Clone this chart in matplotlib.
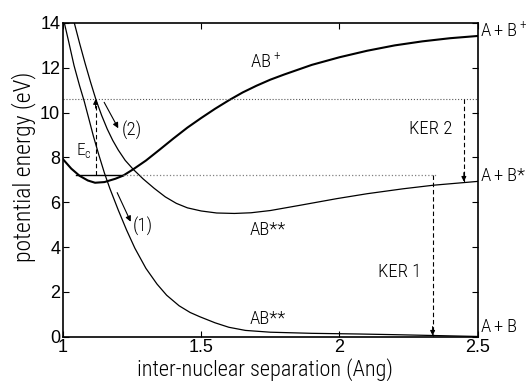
import matplotlib.pyplot as plt

plt.rcParams['font.family'] = ['Liberation Sans', 'DejaVu Sans']
plt.rcParams['mathtext.fontset'] = 'custom'
plt.rcParams['mathtext.rm'] = 'Roboto Condensed:light'
cond = ['Roboto Condensed', 'DejaVu Sans']

# AB+ ion curve (bound)
r_ion = [1.00, 1.03, 1.06, 1.09, 1.116, 1.15, 1.19, 1.218, 1.254, 1.30, 1.35,
         1.40, 1.45, 1.50, 1.55, 1.60, 1.65, 1.70, 1.75, 1.80, 1.90, 2.00,
         2.10, 2.20, 2.30, 2.40, 2.50]
e_ion = [7.92, 7.50, 7.18, 6.97, 6.87, 6.90, 7.05, 7.19, 7.47, 7.86, 8.35,
         8.85, 9.33, 9.76, 10.17, 10.55, 10.90, 11.20, 11.47, 11.70, 12.13,
         12.47, 12.76, 13.00, 13.18, 13.32, 13.42]

# upper AB** curve (goes to A+B*)
r_up = [1.041, 1.06, 1.08, 1.10, 1.12, 1.14, 1.16, 1.18, 1.20, 1.225, 1.254,
        1.29, 1.33, 1.37, 1.41, 1.45, 1.50, 1.556, 1.62, 1.68, 1.75, 1.86,
        1.99, 2.10, 2.23, 2.34, 2.50]
e_up = [14.0, 13.1, 12.2, 11.35, 10.55, 9.87, 9.27, 8.76, 8.33, 7.87, 7.47,
        7.04, 6.62, 6.24, 5.95, 5.75, 5.61, 5.52, 5.50, 5.53, 5.63, 5.87,
        6.16, 6.38, 6.60, 6.76, 6.93]

# lower AB** curve (goes to A+B)
r_low = [1.005, 1.02, 1.04, 1.06, 1.077, 1.092, 1.11, 1.13, 1.15, 1.17,
         1.20, 1.23, 1.26, 1.30, 1.34, 1.375, 1.42, 1.46, 1.495, 1.55,
         1.60, 1.66, 1.75, 1.90, 2.07, 2.20, 2.35, 2.50]
e_low = [14.0, 13.2, 12.1, 11.2, 10.5, 9.8, 8.95, 8.1, 7.3, 6.6,
         5.65, 4.76, 3.95, 3.05, 2.35, 1.85, 1.38, 1.08, 0.89, 0.62,
         0.42, 0.28, 0.20, 0.15, 0.12, 0.09, 0.05, 0.01]

# energy levels / arrows
e_excite = 10.6
e_vib = 7.2
r_vib = [1.046, 1.218]
r_excite = 1.118
r_ker1 = 2.337
r_ker2 = 2.45
e_ker1_end = 0.05
e_ker2_end = 6.92
r_dot_end = 2.35

fig = plt.figure(figsize=(5.31, 3.81), dpi=100)
ax = fig.add_axes([0.1186, 0.1163, 0.781, 0.8234])

ax.plot(r_ion, e_ion, color='k', lw=1.5)
ax.plot(r_up, e_up, color='k', lw=0.9)
ax.plot(r_low, e_low, color='k', lw=0.9)

# levels
ax.axhline(e_excite, color='0.35', ls=':', lw=0.8)
ax.plot(r_vib, [e_vib, e_vib], color='k', lw=1.0)
ax.plot([r_vib[1], r_dot_end], [e_vib, e_vib], color='0.5', ls=':', lw=0.9)

# dashed arrows
def dashed_arrow(x, y0, y1):
    ax.plot([x, x], [y0, y1], color='k', lw=0.8, dashes=(4, 2.5))
    d = 0.4 if y1 > y0 else -0.4
    ax.annotate('', xy=(x, y1), xytext=(x, y1 - d),
                arrowprops=dict(arrowstyle='-|>', color='k', lw=0.8,
                                mutation_scale=7, shrinkA=0, shrinkB=0))

dashed_arrow(r_excite, e_vib, e_excite)
dashed_arrow(r_ker2, e_excite, e_ker2_end)
dashed_arrow(r_ker1, e_vib, e_ker1_end)

# dissociation path arrows
arr = dict(arrowstyle='-|>', color='k', lw=0.8, mutation_scale=8,
           shrinkA=0, shrinkB=0)
ax.annotate('', xy=(1.20, 9.30), xytext=(1.149, 10.46), arrowprops=arr)
ax.annotate('', xy=(1.245, 5.13), xytext=(1.196, 6.43), arrowprops=arr)

fs = 13.5
tk = dict(fontsize=fs, family=cond, fontweight='light', va='center')
ax.text(1.676, 12.25, r'AB$^+$', **tk)
ax.text(1.676, 4.74, 'AB**', **tk)
ax.text(1.676, 0.79, 'AB**', **tk)
ax.text(2.253, 9.27, 'KER 2', **tk)
ax.text(2.14, 2.87, 'KER 1', **tk)
ax.text(1.046, 8.3, r'E$_\mathrm{c}$', fontsize=12.5, family=cond,
        fontweight='light', va='center')
ax.text(1.212, 9.22, '(2)', **tk)
ax.text(1.252, 4.92, '(1)', **tk)

ax.text(2.51, 13.65, r'$\mathrm{A+B^+}$', **tk)
ax.text(2.51, 7.17, r'$\mathrm{A+B}$*', **tk)
ax.text(2.51, 0.45, r'$\mathrm{A+B}$', **tk)

ax.set_xlim(1, 2.5)
ax.set_ylim(0, 14)
ax.set_xticks([1, 1.5, 2, 2.5])
ax.set_xticklabels(['1', '1.5', '2', '2.5'])
ax.set_yticks(range(0, 15, 2))
ax.tick_params(direction='in', top=True, right=True, length=4, width=0.8,
               labelsize=13, pad=2)
for s in ax.spines.values():
    s.set_linewidth(1.2)

ax.set_xlabel('inter-nuclear separation (Ang)', fontsize=16, family=cond,
              fontweight='light')
ax.set_ylabel('potential energy (eV)', fontsize=17, family=cond,
              fontweight='light')
ax.xaxis.set_label_coords(0.487, -0.068)
ax.yaxis.set_label_coords(-0.065, 0.543)

fig.savefig('out.png', dpi=100)
